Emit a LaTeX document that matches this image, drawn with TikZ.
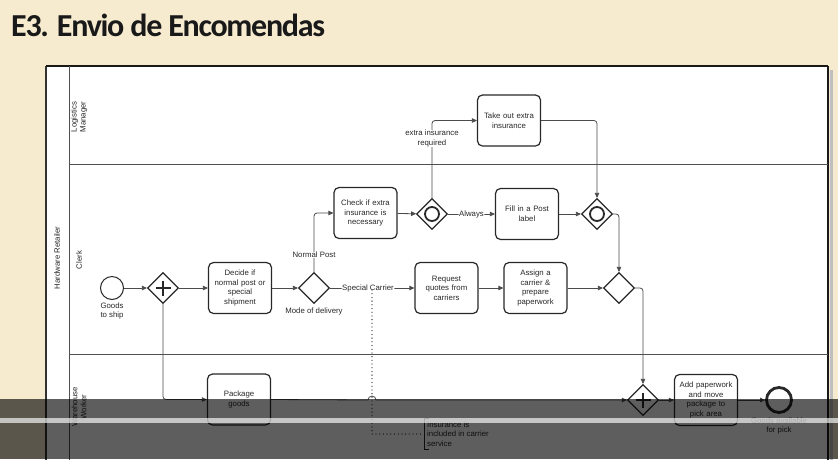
\documentclass[tikz,border=0pt]{standalone}
\usepackage{fontspec}
\setmainfont{Liberation Sans}
\newfontfamily\titlefont[LetterSpace=-4]{Carlito}
\usetikzlibrary{arrows.meta,shapes.geometric,calc}
\definecolor{parchment}{RGB}{246,234,207}
\definecolor{ink}{RGB}{40,40,40}
\definecolor{flow}{RGB}{75,75,75}
\definecolor{lane}{RGB}{80,80,80}
\begin{document}
\begin{tikzpicture}[x=1pt,y=-1pt,
  txt/.style={font=\fontsize{7.8}{9.6}\selectfont,text=ink},
  task/.style={txt,draw=ink,line width=1.2pt,rounded corners=5pt,fill=white,
    minimum width=63pt,minimum height=51pt,align=center,inner sep=1pt,text width=61pt},
  gateway/.style={diamond,aspect=1,draw=ink,line width=1.2pt,fill=white,
    minimum width=31pt,minimum height=31pt,inner sep=0pt},
  event/.style={circle,draw=ink,fill=white,inner sep=0pt},
  seq/.style={draw=flow,line width=0.8pt,rounded corners=3pt,
    -{Triangle[length=5pt,width=4.5pt]}},
  lbl/.style={txt,align=center,inner sep=1pt},
  onflow/.style={lbl,fill=white,inner sep=0.5pt},
  assoc/.style={draw=ink,line width=1.3pt,line cap=round,dash pattern=on 0pt off 3.7pt},
  poolline/.style={draw=lane,line width=1pt},
]
% page and parchment background
\fill[parchment] (0,0) rectangle (838,459);
\useasboundingbox (0,0) rectangle (838,459);
\begin{scope}
\clip (0,0) rectangle (838,459);

% title
\node[anchor=base west,inner sep=0pt,font=\titlefont\bfseries\fontsize{32}{32}\selectfont,text=black!90]
  (title) at (11,36.5) {E3. Envio de Encomendas};

% pool and lanes
\draw[line width=3pt,black!25] (831,70) -- (831,470);
\fill[white] (46,66) rectangle (828,470);
\draw[line width=1.2pt,black!80] (46,470) -- (46,66);
\draw[line width=2pt,black!90] (46,66) -- (828,66);
\draw[line width=2.4pt,black!90] (828,66) -- (828,470);
\draw[poolline] (69,66) -- (69,470);
\draw[poolline] (69,164) -- (828,164);
\draw[poolline] (69,354) -- (828,354);
\node[lbl,rotate=90] (pool) at (57,258) {Hardware Retailer};
\node[lbl,rotate=90,font=\fontsize{7.8}{9}\selectfont] (laneLM) at (79,117) {Logistics\\Manager};
\node[lbl,rotate=90] (laneC) at (79,260) {Clerk};
\node[lbl,rotate=90,font=\fontsize{7.8}{9}\selectfont] (laneW) at (79,407) {Warehouse\\Worker};

% events, gateways and tasks
\node[event,minimum size=23pt,line width=1pt] (start) at (112,288) {};
\node[lbl,font=\fontsize{7.8}{9.4}\selectfont] (startlbl) at (112,311) {Goods\\to ship};
\node[gateway] (fork) at (163,288) {};
\node[task] (decide) at (240,288) {Decide if\\normal post or\\special\\shipment};
\node[gateway] (mode) at (314,288) {};
\node[lbl] (modelbl) at (314,311) {Mode of delivery};
\node[task] (check) at (365.5,213) {Check if extra\\insurance is\\necessary};
\node[gateway] (ig1) at (432,214) {};
\node[task] (fillpost) at (527,214) {Fill in a Post\\label};
\node[gateway] (ig2) at (597,214) {};
\node[task,minimum width=62pt] (takeout) at (509,120.5) {Take out extra\\insurance};
\node[task] (request) at (446.5,288) {Request\\quotes from\\carriers};
\node[task] (assign) at (535.5,288) {Assign a\\carrier \&\\prepare\\paperwork};
\node[gateway] (merge) at (619,288) {};
\node[task,minimum width=62pt] (package) at (239,399.5) {Package\\goods};
\node[gateway] (join) at (643,400) {};
\node[task,minimum width=62pt] (addpw) at (706,400) {Add paperwork\\and move\\package to\\pick area};
\node[event,minimum size=25pt,line width=2.8pt] (end) at (779,400) {};
\node[lbl,font=\fontsize{7.8}{9.4}\selectfont] (endlbl) at (779,426) {Goods available\\for pick};
\node[txt,anchor=west,align=left,inner sep=3pt,font=\fontsize{7.8}{9.6}\selectfont]
  (note) at (424,434) {Insurance is\\included in carrier\\service};

% gateway markers
\foreach \g in {fork,join}
  \draw[ink,line width=2.6pt] ($(\g.center)+(-7.5,0)$) -- ($(\g.center)+(7.5,0)$)
                              ($(\g.center)+(0,-7.5)$) -- ($(\g.center)+(0,7.5)$);
\foreach \g in {ig1,ig2}
  \draw[ink,line width=1.8pt] (\g.center) circle[radius=7];

% sequence flows
\draw[seq] (start) -- (fork);
\draw[seq] (fork) -- (decide);
\draw[seq] (decide) -- (mode);
\draw[seq] (mode.north) |- (check.west);
\node[onflow] (normalpost) at (314,255) {Normal Post};
\coordinate (assocstart) at (372,290);
\draw[seq] (mode.east) -- node[onflow,pos=0.45] (special) {Special Carrier} (request.west);
\draw[seq] (check) -- (ig1);
\draw[seq] (ig1) -- node[onflow] (always) {Always} (fillpost);
\draw[seq] (ig1.north) |- (takeout.west);
\node[onflow,font=\fontsize{7.8}{9.2}\selectfont] (extralbl) at (432,138.5) {extra insurance\\required};
\draw[seq] (takeout.east) -| (ig2.north);
\draw[seq] (fillpost) -- (ig2);
\draw[seq] (ig2.east) -| (merge.north);
\draw[seq] (request) -- (assign);
\draw[seq] (assign) -- (merge);
\draw[seq] (merge.east) -| (join.north);
\draw[seq] (fork.south) |- (package.west);
\draw[seq,rounded corners=0pt] (package.east) -- (368,400)
  arc[start angle=180,end angle=360,radius=4] -- (join.west);
\draw[seq] (join) -- (addpw);
\draw[seq] (addpw) -- (end);

% association to the text annotation
\draw[assoc] (assocstart) |- (note.west);
\draw[ink,line width=0.9pt] ($(note.north west)+(5,0)$) -- (note.north west)
  -- (note.south west) -- ($(note.south west)+(5,0)$);

% translucent player bar across the lower edge
\fill[black,opacity=0.63] (0,399) rectangle (838,459);
\fill[white,opacity=0.65] (0,418) rectangle (838,423);
\end{scope}
\end{tikzpicture}
\end{document}
